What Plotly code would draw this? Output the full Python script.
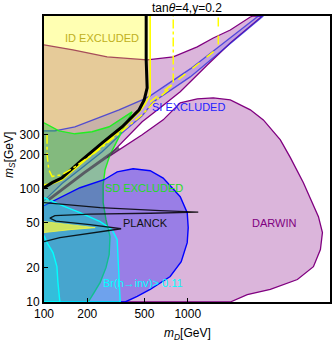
import plotly.graph_objects as go

# ---- region boundaries (mD, mS in GeV) ----
darwin_mD = [100, 159, 275, 522, 793, 1165, 1506, 1978, 2726, 2860, 3306, 1978, 1368, 887, 643, 482, 275,
             482, 675, 887, 1165, 1506, 1978, 2726, 3359, 4412, 5179, 6380, 8120, 8657, 8381, 7493, 5796,
             3757, 2597, 1978, 100]
darwin_mS = [1860, 1680, 1455, 1370, 1455, 1783, 2140, 2517, 3277, 3344, 3344, 1933, 1237, 716, 517, 389, 188,
             299, 405, 572, 621, 634, 608, 497, 405, 270, 188, 113, 56.7, 41, 29, 20.5, 15.8,
             12.9, 11.6, 10, 10]

id_mD = [100, 548, 548, 506, 467, 350, 254, 184, 133.5, 115.5, 100]
id_mS = [3344, 3344, 673, 561, 487, 338, 239, 169, 120, 111, 108]

si_mD = [100, 119, 164, 242, 333, 482, 548, 1041, 3099, 3359, 1041, 576, 482, 350, 254, 184, 133.5, 105, 100]
si_mS = [324, 324, 352, 422, 497, 608, 660, 1141, 3344, 3344, 970, 584, 440, 311, 212, 153, 111, 83, 78]

sd_mD = [100, 127, 164, 216, 284, 367, 410, 367, 323, 288, 266, 258, 258, 270, 288, 284, 270, 246, 223, 203, 100]
sd_mS = [382, 324, 305, 318, 352, 431, 477, 366, 270, 199, 147, 108, 75.3, 53.3, 37.8, 26.2, 20.1, 14.9, 12.1, 10, 10]

lobe_mD = [100, 129, 178, 262, 323, 417, 548, 675, 887, 992, 1008, 992, 901, 755, 548, 445, 367, 100]
lobe_mS = [70.8, 83.3, 102, 120, 141, 150, 144, 124, 85, 61.5, 45.3, 33.4, 22.7, 16.8, 12.9, 11.2, 10, 10]

inv_mD = [100, 129, 178, 246, 298, 323, 328, 333, 339, 100]
inv_mS = [83.3, 72.3, 61.5, 51.2, 43.5, 35.5, 23.7, 15.8, 10, 10]

inv2_mD = [100, 105, 115.5, 123, 125, 129, 100]
inv2_mS = [38.6, 33.4, 27.3, 20.5, 14.9, 10, 10]

res_mD = [100, 152, 227, 152, 100]
res_mS = [51.2, 48.2, 45.3, 43.5, 41]

planck_mD = [514, 514, 522, 498, 459, 350, 254, 184, 133.5, 114, 100]
planck_mS = [3344, 1369, 776, 608, 497, 352, 254, 180, 125, 113, 102]

planck2_mD = [333, 190, 108]
planck2_mS = [229, 138, 80]

planck_res_mD = [100, 246, 643, 1184, 548, 209, 119, 110, 121, 209, 344, 209, 129, 100]
planck_res_mS = [75.3, 68, 64, 62.1, 60.8, 59.6, 57.8, 55, 51.7, 48.2, 44.3, 40.5, 37, 34.1]

id_dashdot_mD = [105, 105, 108, 114, 133.5, 164, 227, 313, 410, 482, 594, 731, 793, 793]
id_dashdot_mS = [299, 199, 147, 128, 133, 156, 208, 287, 382, 449, 596, 745, 859, 3344]

id_dash_mD = [548, 887, 1506, 1632, 1632]
id_dash_mS = [584, 951, 1611, 1783, 3344]

x_ticks = [100, 200, 500, 1000]
y_ticks = [10, 20, 50, 100, 200, 300]

# label anchors, log10(mD), log10(mS)
label_text = ["ID EXCLUDED", "SI EXCLUDED", "SD EXCLUDED", "PLANCK", "DARWIN", "Br(h→inv)> 0.11"]
label_lx = [2.404, 3.003, 2.697, 2.704, 3.603, 2.690]
label_ly = [3.330, 2.722, 2.009, 1.700, 1.700, 1.172]
label_col = ["#c0b020", "#2222ff", "#22dd22", "#111111", "#800080", "#00ffff"]

FONT = "Liberation Sans, Arial, sans-serif"


def region(x, y, fill, line, width=1.2):
    return go.Scatter(x=x, y=y, mode="lines", fill="toself", fillcolor=fill,
                      line=dict(color=line, width=width), hoverinfo="skip")


def curve(x, y, color, width=1.5, dash="solid"):
    return go.Scatter(x=x, y=y, mode="lines", line=dict(color=color, width=width, dash=dash),
                      hoverinfo="skip")


fig = go.Figure()
fig.add_trace(region(darwin_mD, darwin_mS, "rgba(175,90,175,0.45)", "#800080", 1.3))
fig.add_trace(region(id_mD, id_mS, "rgba(255,255,0,0.3)", "rgba(0,0,0,0)", 0))
fig.add_trace(region(si_mD, si_mS, "rgba(40,40,255,0.15)", "rgba(40,40,220,0.75)", 1.3))
fig.add_trace(region(sd_mD, sd_mS, "rgba(0,200,50,0.35)", "#22ee22", 1.4))
fig.add_trace(region(lobe_mD, lobe_mS, "rgba(0,0,255,0.3)", "#0000ff", 1.4))
fig.add_trace(region(inv_mD, inv_mS, "rgba(0,255,255,0.28)", "#00ffff", 1.4))
fig.add_trace(region(inv2_mD, inv2_mS, "rgba(0,255,255,0.28)", "#00ffff", 1.4))
fig.add_trace(region(res_mD, res_mS, "rgba(250,250,60,0.75)", "rgba(250,250,60,0.75)", 1))

fig.add_trace(curve(id_mD[1:], id_mS[1:], "#ffff00", 1.6))
fig.add_trace(curve(planck2_mD, planck2_mS, "rgba(70,60,80,0.75)", 3))
fig.add_trace(curve(planck_res_mD, planck_res_mS, "rgba(0,0,0,0.85)", 1.4))
fig.add_trace(curve(planck_mD, planck_mS, "black", 3))
fig.add_trace(curve(id_dashdot_mD, id_dashdot_mS, "#ffff00", 1.5, "dashdot"))
fig.add_trace(curve(id_dash_mD, id_dash_mS, "#ffff00", 1.5, "dash"))

for lx, ly, txt, col in zip(label_lx, label_ly, label_text, label_col):
    fig.add_annotation(x=lx, y=ly, xref="x", yref="y", text=txt, showarrow=False,
                       xanchor="center", yanchor="middle",
                       font=dict(family=FONT, size=11, color=col))

# axis titles
fig.add_annotation(x=0.5, y=-0.113, xref="paper", yref="paper", text="<i>m<sub>D</sub></i>[GeV]",
                   xanchor="center", yanchor="middle",
                   showarrow=False, font=dict(family=FONT, size=12, color="black"))
fig.add_annotation(x=-0.119, y=0.514, xref="paper", yref="paper", text="<i>m<sub>S</sub></i>[GeV]",
                   xanchor="center", yanchor="middle",
                   textangle=-90, showarrow=False, font=dict(family=FONT, size=12, color="black"))

fig.update_layout(
    width=332, height=341,
    margin=dict(l=44, r=2, t=16, b=39, autoexpand=False),
    paper_bgcolor="white", plot_bgcolor="white",
    showlegend=False,
    font=dict(family=FONT, size=12, color="black"),
    title=dict(text="tan<i>θ</i>=4,y=0.2", x=0.563, xanchor="center", xref="container",
               y=0.977, yanchor="middle", yref="container",
               font=dict(family=FONT, size=12, color="black")),
)
fig.update_xaxes(type="log", range=[2, 3.99], tickvals=x_ticks, ticktext=[str(v) for v in x_ticks],
                 ticks="inside", ticklen=4, tickwidth=1.2, tickcolor="black", automargin=False,
                 showline=True, linewidth=2, linecolor="black", mirror=True, showgrid=False, zeroline=False)
fig.update_yaxes(type="log", range=[1, 3.5242], tickvals=y_ticks, ticktext=[str(v) for v in y_ticks],
                 ticks="inside", ticklen=4, tickwidth=1.2, tickcolor="black", automargin=False,
                 showline=True, linewidth=2, linecolor="black", mirror=True, showgrid=False, zeroline=False)

# the page body has a default 8px margin; drop it so the figure sits at the window origin
fig.write_html("out.html", config={"displayModeBar": False},
               post_script="document.body.style.margin='0px';")
